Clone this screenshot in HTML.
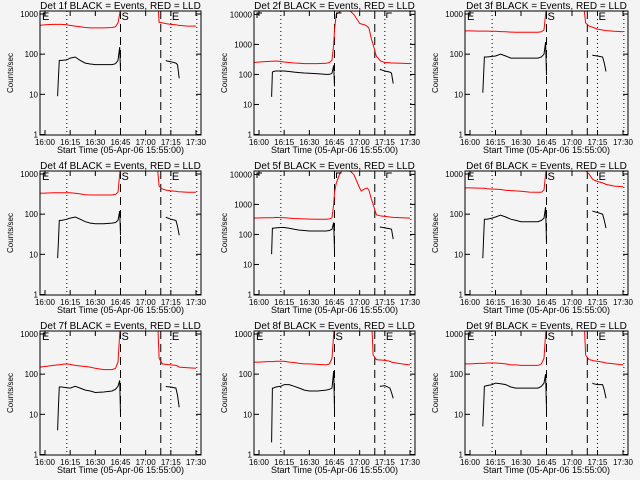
<!DOCTYPE html>
<html><head><meta charset="utf-8"><style>
body{margin:0;background:#f4f4f4}
svg{display:block;font-family:"Liberation Sans",sans-serif}
</style></head><body>
<svg id="c" width="640" height="480" viewBox="0 0 640 480"></svg>
<script>
// time in minutes after 16:00
const times = [-3,0,5,7.5,8,8.5,10,13,15,18,21,24,27,30,35,40,42,43.5,44.5,45,46,48,50,53,56.5,60,61,63,64.5,65.5,67,68,70,72,72.5,75,78,79,80,85,90];
const detNames = ["1f","2f","3f","4f","5f","6f","7f","8f","9f"];
const yMaxes = [1000,10000,1000,1000,10000,1000,1000,1000,1000];
const N=null;
// red (LLD) series
const red1=[520,540,550,550,550,550,550,540,520,500,480,460,450,450,450,460,480,600,1000,1500,3000,N,N,N,N,N,N,N,N,N,3000,620,600,580,570,550,540,530,520,500,500];
const red2=[250,260,270,275,275,275,280,270,260,250,240,235,230,230,230,235,250,300,1000,3000,10000,12000,15000,15000,10000,5000,4800,4500,4000,3500,1500,1000,400,300,280,250,245,240,240,235,230];
const red3=[380,380,375,375,375,375,375,370,370,365,360,355,350,350,350,350,360,400,1000,1500,3000,N,N,N,N,N,N,N,N,N,1500,600,500,470,460,420,400,390,385,370,360];
const red4=[330,335,340,340,340,340,340,340,340,330,320,305,300,300,300,300,310,350,1000,1500,3000,N,N,N,N,N,N,N,N,N,1500,500,420,400,395,380,370,365,360,350,350];
const red5=[350,355,360,360,360,360,370,365,360,350,340,335,330,325,320,320,330,360,1000,2500,5000,10000,15000,15000,10000,3500,2800,3300,3500,3000,1500,1000,450,420,415,400,380,375,370,360,350];
const red6=[450,450,445,440,440,440,430,420,420,410,395,385,380,370,355,350,350,400,1000,1500,3000,N,N,N,N,N,N,N,N,N,3000,1200,1000,750,720,650,600,580,550,500,480];
const red7=[150,155,165,170,170,170,175,180,175,165,160,155,150,140,130,130,140,200,1000,1500,3000,N,N,N,N,N,N,N,N,N,3000,250,180,175,175,170,165,160,150,145,140];
const red8=[200,200,205,205,205,205,210,210,210,200,195,185,180,180,175,170,180,250,1000,1500,3000,N,N,N,N,N,N,N,N,N,3000,300,230,225,225,220,210,200,195,180,170];
const red9=[180,180,185,185,185,185,190,190,190,185,180,170,170,165,165,165,180,250,1000,1500,3000,N,N,N,N,N,N,N,N,N,3000,300,230,220,215,210,200,195,190,180,170];
// black (events) series
const blk1=[N,N,N,9,25,70,70,72,80,85,70,60,57,55,55,55,58,70,150,40,N,N,N,N,N,N,N,N,N,N,N,N,N,70,68,65,60,55,25,N,N];
const blk2=[N,N,N,18,120,125,130,130,130,125,120,115,112,110,105,100,100,110,200,40,N,N,N,N,N,N,N,N,N,N,N,N,N,150,145,130,120,110,50,N,N];
const blk3=[N,N,N,11,30,85,85,88,90,100,90,80,80,80,80,80,85,100,200,30,N,N,N,N,N,N,N,N,N,N,N,N,N,95,93,90,85,60,37,N,N];
const blk4=[N,N,N,8,20,70,70,75,80,85,75,65,60,58,58,60,62,70,120,30,N,N,N,N,N,N,N,N,N,N,N,N,N,85,82,75,70,50,30,N,N];
const blk5=[N,N,N,22,160,160,165,170,170,160,150,140,135,130,130,130,135,150,250,30,N,N,N,N,N,N,N,N,N,N,N,N,N,180,175,165,155,150,70,N,N];
const blk6=[N,N,N,8,25,75,75,80,85,95,85,75,70,65,65,65,70,80,150,20,N,N,N,N,N,N,N,N,N,N,N,N,N,120,118,110,100,70,45,N,N];
const blk7=[N,N,N,4,15,48,48,46,45,50,45,40,38,35,36,38,42,50,70,10,N,N,N,N,N,N,N,N,N,N,N,N,N,50,49,48,45,30,15,N,N];
const blk8=[N,N,N,2,45,45,48,50,55,55,50,45,40,38,38,40,42,45,120,13,N,N,N,N,N,N,N,N,N,N,N,N,N,50,50,52,45,35,25,N,N];
const blk9=[N,N,N,5,15,50,52,55,60,58,55,48,45,45,45,45,50,60,100,13,N,N,N,N,N,N,N,N,N,N,N,N,N,60,58,55,55,40,25,N,N];
const redSeries=[red1,red2,red3,red4,red5,red6,red7,red8,red9];
const blkSeries=[blk1,blk2,blk3,blk4,blk5,blk6,blk7,blk8,blk9];
const xTickLabels=["16:00","16:15","16:30","16:45","17:00","17:15","17:30"];
const xTickTimes=[0,15,30,45,60,75,90];
const dottedTimes=[13,75,90.5];
const dashedTimes=[45,69];

const NS="http://www.w3.org/2000/svg";
const svg=document.getElementById('c');
function mk(tag,attrs,parent){const e=document.createElementNS(NS,tag);for(const k in attrs)e.setAttribute(k,attrs[k]);(parent||svg).appendChild(e);return e;}
const lefts=[40,254,465], widths=[161,161,163];

for(let i=0;i<9;i++){
  const c=i%3,r=Math.floor(i/3);
  const L=lefts[c],W=widths[c],T=11+r*160,B=135+r*160,H=B-T;
  const ymax=yMaxes[i];
  const dec=Math.log10(ymax);
  const topLog=dec*124/(dec===3?121:120.6);
  const xs=t=>L+5+t*(W-10)/90;
  const ys=v=>B-0.5-Math.log10(v)/topLog*(H-0.5);
  const g=mk('g',{});
  
  
  const cp=mk('clipPath',{id:'cp'+i},g);
  mk('rect',{x:L,y:T,width:W,height:H},cp);
  const tt=mk('text',{x:L+W/2,y:T-2,'text-anchor':'middle','font-size':'10'},g);
  tt.textContent='Det '+detNames[i]+' BLACK = Events, RED = LLD';
  
  
  const yl=mk('text',{x:0,y:0,'text-anchor':'middle','font-size':'8',transform:`translate(${L-27},${(T+B)/2}) rotate(-90)`},g);
  yl.textContent='Counts/sec';
  
  
  const xl=mk('text',{x:L+W/2,y:B+18,'text-anchor':'middle','font-size':'9'},g);
  xl.textContent='Start Time (05-Apr-06 15:55:00)';
  
  
  for(let d=0;d<=dec;d++){
    const v=Math.pow(10,d),y=ys(v);
    mk('line',{x1:L,x2:L+5,y1:y,y2:y,stroke:'#000'},g);
    mk('line',{x1:L+W-5,x2:L+W,y1:y,y2:y,stroke:'#000'},g);
    const lb=mk('text',{x:L-2,y:y+3,'text-anchor':'end','font-size':'8'},g);
    lb.textContent=String(v);
    
    
  }
  xTickTimes.forEach((t,k)=>{
    const x=xs(t);
    mk('line',{x1:x,x2:x,y1:B,y2:B-5,stroke:'#000'},g);
    mk('line',{x1:x,x2:x,y1:T,y2:T+5,stroke:'#000'},g);
    const lb=mk('text',{x:x,y:B+10,'text-anchor':'middle','font-size':'8'},g);
    lb.textContent=xTickLabels[k];
    
    
  });
  dottedTimes.forEach(t=>{const x=xs(t);const ln=mk('line',{x1:x,x2:x,y1:T,y2:B,stroke:'#000','stroke-dasharray':'1,3'},g);
    
    });
  dashedTimes.forEach(t=>{const x=xs(t);const ln=mk('line',{x1:x,x2:x,y1:T,y2:B,stroke:'#000','stroke-width':1,'stroke-dasharray':'8,5'},g);
    
    });
  function path(vals,color,name){
    let d='',pen=false;
    vals.forEach((v,k)=>{if(v==null){pen=false;return;}d+=(pen?'L':'M')+xs(times[k]).toFixed(1)+','+ys(v).toFixed(1);pen=true;});
    const p=mk('path',{d:d,fill:'none',stroke:color,'stroke-width':1,'clip-path':`url(#cp${i})`},g);
    
    
  }
  path(redSeries[i],'#ff0000','lld-line');
  path(blkSeries[i],'#000000','events-line');
  const letters=[['E',L+2],['S',xs(dashedTimes[0])+1],['E',xs(dottedTimes[1])+1]];
  letters.forEach(([ch,x])=>{
    if(dec===3){
      const tx=mk('text',{x:x,y:T+9,'font-size':'11'},g);tx.textContent=ch;
      
      
    } else {
      const p=mk('path',{d:`M${x+1},${T+7}V${T+2}H${x+6}`,fill:'none',stroke:'#000'},g);
      
      
    }
  });
  const bx=mk('rect',{x:L,y:T,width:W,height:H,fill:'none',stroke:'#000'},g);
  
  
}
</script>
</body></html>
